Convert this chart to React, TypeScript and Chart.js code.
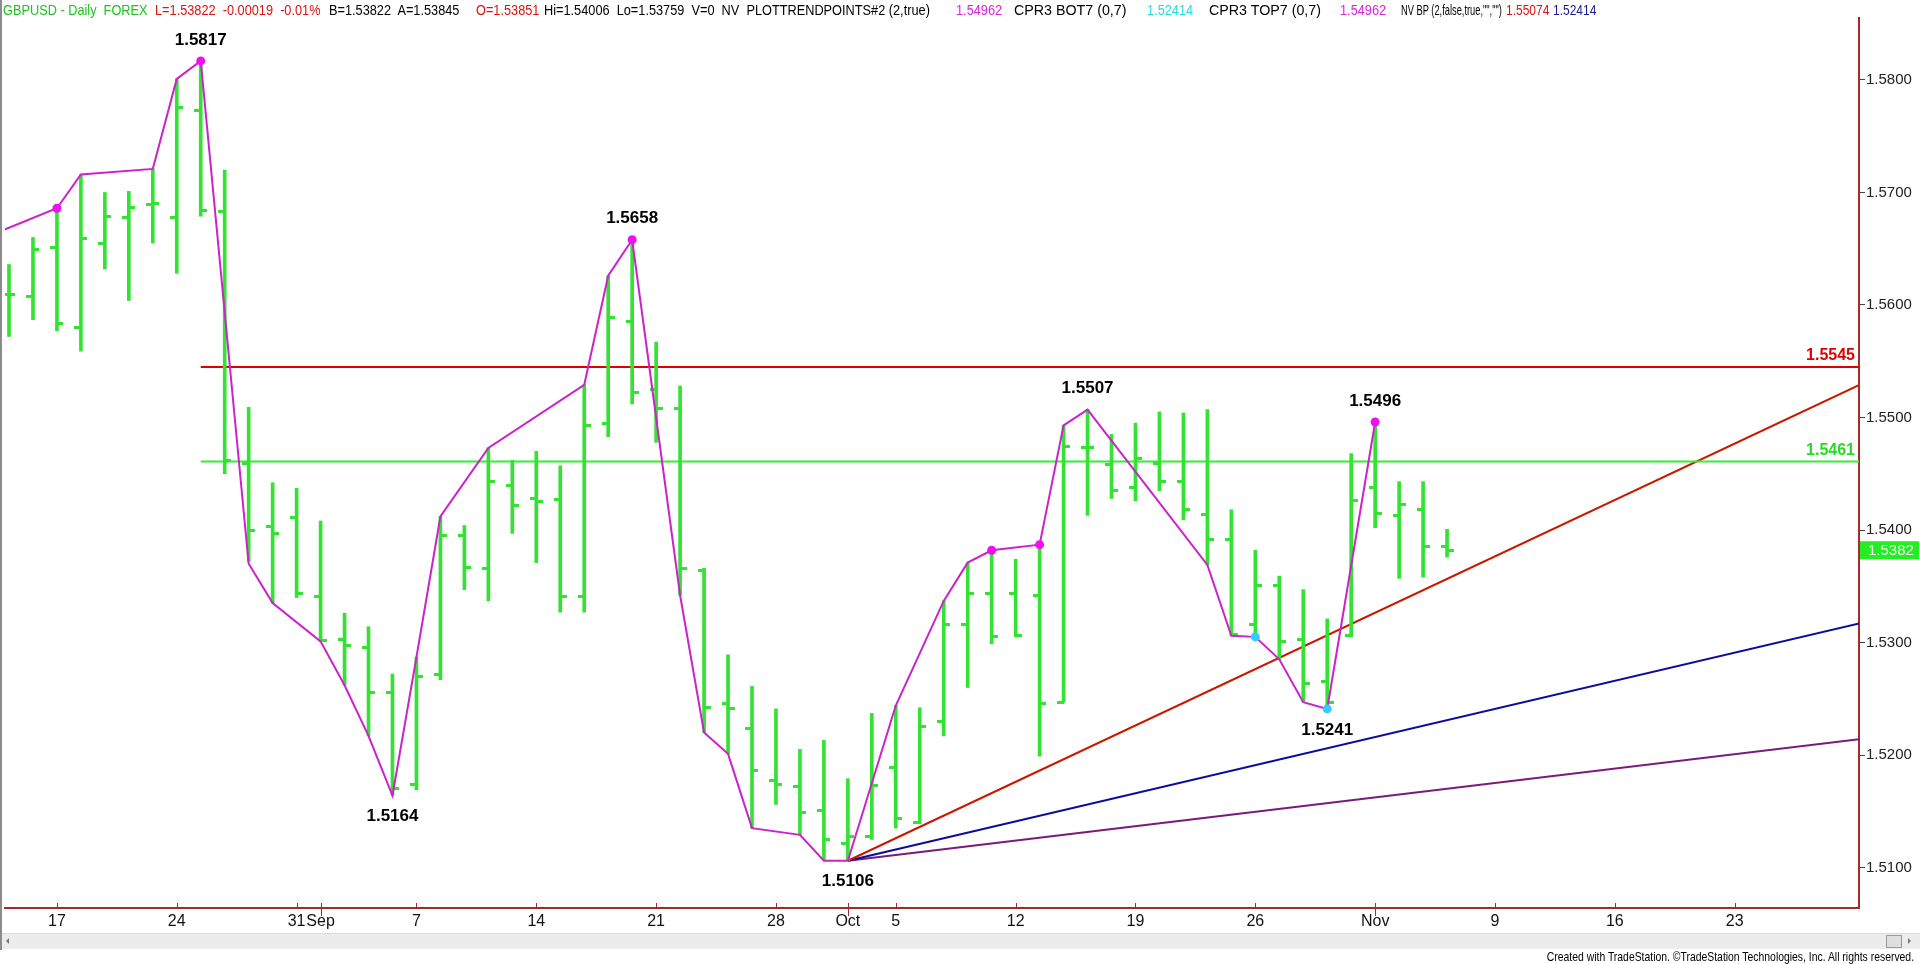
import React, { useEffect, useRef } from 'react';
import { Chart, registerables } from 'chart.js';
Chart.register(...registerables);

// ---------- DATA ----------
const barDates = [
  '2015-08-13','2015-08-14','2015-08-17','2015-08-18','2015-08-19','2015-08-20','2015-08-21',
  '2015-08-24','2015-08-25','2015-08-26','2015-08-27','2015-08-28','2015-08-31',
  '2015-09-01','2015-09-02','2015-09-03','2015-09-04','2015-09-07','2015-09-08','2015-09-09',
  '2015-09-10','2015-09-11','2015-09-14','2015-09-15','2015-09-16','2015-09-17','2015-09-18',
  '2015-09-21','2015-09-22','2015-09-23','2015-09-24','2015-09-25','2015-09-28','2015-09-29',
  '2015-09-30','2015-10-01','2015-10-02','2015-10-05','2015-10-06','2015-10-07','2015-10-08',
  '2015-10-09','2015-10-12','2015-10-13','2015-10-14','2015-10-15','2015-10-16','2015-10-19',
  '2015-10-20','2015-10-21','2015-10-22','2015-10-23','2015-10-26','2015-10-27','2015-10-28',
  '2015-10-29','2015-10-30','2015-11-02','2015-11-03','2015-11-04','2015-11-05',
];
const opens = [
  1.5609,1.5608,1.5651,1.5580,1.5655,1.5678,1.5689,1.5678,1.5773,1.5683,1.5459,1.5403,1.5411,
  1.5341,1.5303,1.5296,1.5256,1.5174,1.5272,1.5395,1.5366,1.5440,1.5428,1.5427,1.5341,1.5495,1.5585,
  1.5525,1.5508,1.5364,1.5246,1.5224,1.5177,1.5172,1.5151,1.5121,1.5128,1.5189,1.5140,1.5230,1.5316,
  1.5344,1.5344,1.5342,1.5247,1.5473,1.5458,1.5438,1.5459,1.5443,1.5414,1.5392,1.5316,1.5351,1.5303,
  1.5265,1.5306,1.5438,1.5413,1.5418,1.53851,
];
const highs = [
  1.5636,1.5660,1.5686,1.5716,1.5700,1.5701,1.5721,1.5801,1.5817,1.5720,1.5509,1.5442,1.5437,
  1.5408,1.5326,1.5314,1.5272,1.5287,1.5412,1.5404,1.5473,1.5462,1.5470,1.5457,1.5529,1.5626,1.5658,
  1.5567,1.5528,1.5366,1.5289,1.5261,1.5241,1.5205,1.5213,1.5179,1.5237,1.5244,1.5242,1.5337,1.5371,
  1.5382,1.5374,1.5387,1.5493,1.5507,1.5485,1.5495,1.5505,1.5504,1.5507,1.5418,1.5382,1.5359,1.5347,
  1.5321,1.5468,1.5496,1.5443,1.5443,1.54006,
];
const lows = [
  1.5572,1.5587,1.5577,1.5559,1.5632,1.5604,1.5655,1.5628,1.5679,1.5450,1.5372,1.5335,1.5340,
  1.5301,1.5262,1.5217,1.5164,1.5169,1.5267,1.5347,1.5337,1.5397,1.5371,1.5327,1.5327,1.5483,1.5512,
  1.5478,1.5342,1.5220,1.5201,1.5135,1.5156,1.5129,1.5107,1.5106,1.5125,1.5135,1.5139,1.5217,1.5260,
  1.5299,1.5305,1.5199,1.5247,1.5413,1.5428,1.5426,1.5435,1.5409,1.5369,1.5306,1.5305,1.5285,1.5247,
  1.5241,1.5305,1.5402,1.5357,1.5358,1.53759,
];
const closes = [
  1.5609,1.5649,1.5584,1.5659,1.5679,1.5687,1.5690,1.5776,1.5684,1.5462,1.5400,1.5397,1.5344,
  1.5302,1.5297,1.5256,1.5170,1.5270,1.5395,1.5367,1.5443,1.5422,1.5425,1.5341,1.5493,1.5589,1.5522,
  1.5508,1.5366,1.5242,1.5241,1.5186,1.5174,1.5149,1.5125,1.5128,1.5173,1.5144,1.5225,1.5316,1.5344,
  1.5305,1.5306,1.5246,1.5474,1.5473,1.5435,1.5464,1.5443,1.5418,1.5392,1.5307,1.5351,1.5301,1.5264,
  1.5247,1.5426,1.5415,1.5423,1.5385,1.53822,
];

// PlotTrendPoints zigzag path
const zigDates = [
  '2015-08-12','2015-08-17','2015-08-18','2015-08-21','2015-08-24','2015-08-25','2015-08-27',
  '2015-08-28','2015-09-01','2015-09-02','2015-09-03','2015-09-04','2015-09-07','2015-09-08',
  '2015-09-10','2015-09-16','2015-09-17','2015-09-18','2015-09-22','2015-09-23','2015-09-24',
  '2015-09-25','2015-09-29','2015-09-30','2015-10-01','2015-10-05','2015-10-07','2015-10-08',
  '2015-10-09','2015-10-13','2015-10-14','2015-10-15','2015-10-22','2015-10-23','2015-10-26',
  '2015-10-27','2015-10-28','2015-10-29','2015-11-02',
];
const zigValues = [
  1.5660,1.5686,1.5716,1.5721,1.5801,1.5817,1.5370,
  1.5335,1.5301,1.5262,1.5217,1.5164,1.5287,1.5412,
  1.5473,1.5529,1.5626,1.5658,1.5342,1.5220,1.5201,
  1.5135,1.5129,1.5106,1.5106,1.5244,1.5337,1.5371,
  1.5382,1.5387,1.5493,1.5507,1.5369,1.5306,1.5305,
  1.5285,1.5247,1.5241,1.5496,
];
const topDotDates = ['2015-08-17','2015-08-25','2015-09-18','2015-10-09','2015-10-13','2015-11-02'];
const topDotValues = [1.5686, 1.5817, 1.5658, 1.5382, 1.5387, 1.5496];
const bottomDotDates = ['2015-10-26','2015-10-29'];
const bottomDotValues = [1.5305, 1.5241];

const pivotLabelDates = ['2015-08-25','2015-09-04','2015-09-18','2015-10-01','2015-10-15','2015-10-29','2015-11-02'];
const pivotLabelValues = [1.5817, 1.5164, 1.5658, 1.5106, 1.5507, 1.5241, 1.5496];
const pivotLabelSides = ['above','below','above','below','above','below','above'];

const levelStartDate = '2015-08-25';
const resistanceLevel = 1.5545;
const pivotLevel = 1.5461;

const trendStartDate = '2015-10-01';
const trendStartValue = 1.5106;
const trendEndDate = '2015-12-01';
const redTrendEnd = 1.5537;
const blueTrendEnd = 1.5321;
const purpleTrendEnd = 1.5216;

const lastPrice = 1.5382;

const xTickDates = ['2015-08-17','2015-08-24','2015-08-31','2015-09-01','2015-09-07','2015-09-14','2015-09-21',
  '2015-09-28','2015-10-01','2015-10-05','2015-10-12','2015-10-19','2015-10-26','2015-11-02','2015-11-09',
  '2015-11-16','2015-11-23'];
const xTickLabels = ['17','24','31','Sep','7','14','21','28','Oct','5','12','19','26','Nov','9','16','23'];
const monthTickLabels = ['Sep','Oct','Nov'];
const yTickValues = [1.51, 1.52, 1.53, 1.54, 1.55, 1.56, 1.57, 1.58];

// ---------- helpers ----------
const BASE = Date.UTC(2015, 7, 17);
function tIdx(s: string): number {
  const [y, m, d] = s.split('-').map(Number);
  const days = Math.round((Date.UTC(y, m - 1, d) - BASE) / 86400000);
  const weeks = Math.floor(days / 7);
  const rem = days - weeks * 7;
  return weeks * 5 + Math.min(rem, 5);
}

const GREEN = '#33e233';
const SANS = '"Liberation Sans", Arial, sans-serif';

function makeTick(side: 'left' | 'right') {
  const c = document.createElement('canvas');
  c.width = 13; c.height = 3;
  const g = c.getContext('2d')!;
  g.fillStyle = GREEN;
  if (side === 'left') g.fillRect(0, 0, 7, 3); else g.fillRect(6, 0, 7, 3);
  return c;
}

const overlayPlugin = {
  id: 'overlay',
  afterDatasetsDraw(chart: any) {
    const { ctx, chartArea, scales } = chart;
    const x = scales.x, y = scales.y;
    ctx.save();
    ctx.font = 'bold 17px ' + SANS;
    ctx.fillStyle = '#000';
    ctx.textAlign = 'center';
    ctx.textBaseline = 'middle';
    pivotLabelDates.forEach((d, i) => {
      const px = x.getPixelForValue(tIdx(d));
      const py = y.getPixelForValue(pivotLabelValues[i]);
      ctx.fillText(pivotLabelValues[i].toFixed(4), px, py + (pivotLabelSides[i] === 'above' ? -21 : 21));
    });
    ctx.font = 'bold 16px ' + SANS;
    ctx.textAlign = 'right';
    ctx.fillStyle = '#e00000';
    ctx.fillText(resistanceLevel.toFixed(4), chartArea.right - 4, y.getPixelForValue(resistanceLevel) - 11);
    ctx.fillStyle = '#22dd22';
    ctx.fillText(pivotLevel.toFixed(4), chartArea.right - 4, y.getPixelForValue(pivotLevel) - 11);
    ctx.restore();
  },
  afterDraw(chart: any) {
    const { ctx, chartArea, scales } = chart;
    const x = scales.x, y = scales.y;
    ctx.save();
    ctx.strokeStyle = '#a52a2a';
    ctx.lineWidth = 1;
    xTickDates.forEach((d, i) => {
      const px = Math.round(x.getPixelForValue(tIdx(d))) + 0.5;
      const month = monthTickLabels.includes(xTickLabels[i]);
      ctx.beginPath();
      ctx.moveTo(px, chartArea.bottom - 5);
      ctx.lineTo(px, chartArea.bottom + (month ? 8 : 0));
      ctx.stroke();
    });
    const py = y.getPixelForValue(lastPrice);
    ctx.fillStyle = '#22ee22';
    ctx.fillRect(chartArea.right + 1, py - 9, 59, 18);
    ctx.fillStyle = '#f4fff4';
    ctx.font = '15px ' + SANS;
    ctx.textAlign = 'left';
    ctx.textBaseline = 'middle';
    ctx.fillText(lastPrice.toFixed(4), chartArea.right + 9, py + 1);
    ctx.restore();
  },
};

export default function App() {
  const ref = useRef<HTMLCanvasElement>(null);
  useEffect(() => {
    document.body.style.margin = '0';
    const idx = barDates.map(tIdx);
    const ts = tIdx(trendStartDate), te = tIdx(trendEndDate);
    const ls = tIdx(levelStartDate);
    const chart = new Chart(ref.current!, {
      type: 'scatter',
      data: {
        datasets: [
          {
            type: 'scatter', order: 0, label: 'tops',
            data: topDotDates.map((d, i) => ({ x: tIdx(d), y: topDotValues[i] })),
            pointRadius: 4.5, backgroundColor: '#ee11ee', borderWidth: 0,
          } as any,
          {
            type: 'scatter', order: 0, label: 'bottoms',
            data: bottomDotDates.map((d, i) => ({ x: tIdx(d), y: bottomDotValues[i] })),
            pointRadius: 4.5, backgroundColor: '#33ccff', borderWidth: 0,
          },
          {
            type: 'line', order: 1, label: 'zigzag',
            data: zigDates.map((d, i) => ({ x: tIdx(d), y: zigValues[i] })),
            borderColor: '#cc22cc', borderWidth: 2, pointRadius: 0, tension: 0, fill: false,
          },
          {
            type: 'scatter', order: 2, label: 'open',
            data: idx.map((v, i) => ({ x: v, y: opens[i] })),
            pointStyle: makeTick('left'), pointRadius: 3,
          },
          {
            type: 'scatter', order: 2, label: 'close',
            data: idx.map((v, i) => ({ x: v, y: closes[i] })),
            pointStyle: makeTick('right'), pointRadius: 3,
          },
          {
            type: 'bar', order: 3, label: 'range',
            data: idx.map((v, i) => ({ x: v, y: [lows[i], highs[i]] })),
            backgroundColor: GREEN, borderWidth: 0, barThickness: 3,
          } as any,
          {
            type: 'line', order: 4, label: 'resistance',
            data: [{ x: ls, y: resistanceLevel }, { x: te, y: resistanceLevel }],
            borderColor: '#e00000', borderWidth: 2, pointRadius: 0,
          },
          {
            type: 'line', order: 4, label: 'pivot',
            data: [{ x: ls, y: pivotLevel }, { x: te, y: pivotLevel }],
            borderColor: '#33ee33', borderWidth: 2, pointRadius: 0,
          },
          {
            type: 'line', order: 4, label: 'red trend',
            data: [{ x: ts, y: trendStartValue }, { x: te, y: redTrendEnd }],
            borderColor: '#c81800', borderWidth: 2, pointRadius: 0,
          },
          {
            type: 'line', order: 4, label: 'blue trend',
            data: [{ x: ts, y: trendStartValue }, { x: te, y: blueTrendEnd }],
            borderColor: '#0c0c9c', borderWidth: 2, pointRadius: 0,
          },
          {
            type: 'line', order: 4, label: 'purple trend',
            data: [{ x: ts, y: trendStartValue }, { x: te, y: purpleTrendEnd }],
            borderColor: '#7a1a7a', borderWidth: 2, pointRadius: 0,
          },
        ],
      },
      options: {
        responsive: false,
        maintainAspectRatio: false,
        animation: false,
        events: [],
        layout: { padding: { left: 2, top: 18, right: 0, bottom: 0 } },
        plugins: { legend: { display: false }, tooltip: { enabled: false } },
        scales: {
          x: {
            type: 'linear',
            min: -2 - 4 / 24,
            max: (1859 - 54.5) / 24,
            offset: false,
            afterFit: (s: any) => { s.height = 56; },
            afterBuildTicks: (s: any) => { s.ticks = xTickDates.map((d) => ({ value: tIdx(d) })); },
            ticks: {
              autoSkip: false, maxRotation: 0, minRotation: 0, padding: 4,
              callback: (v: any) => xTickLabels[xTickDates.findIndex((d) => tIdx(d) === v)] ?? '',
              font: { family: SANS, size: 16 }, color: '#111',
            },
            grid: { display: true, drawOnChartArea: false, drawTicks: false, offset: false },
            border: { display: true, color: '#a52a2a', width: 2 },
          },
          y: {
            type: 'linear',
            position: 'right',
            min: 1.58 - 828 / 11250,
            max: 1.58 + 62 / 11250,
            afterFit: (s: any) => { s.width = 61; },
            afterBuildTicks: (s: any) => { s.ticks = yTickValues.map((v) => ({ value: v })); },
            ticks: {
              padding: 1,
              callback: (v: any) => Number(v).toFixed(4),
              font: { family: SANS, size: 15 }, color: '#222',
            },
            grid: { display: true, drawOnChartArea: false, drawTicks: true, tickLength: 6, color: '#444' },
            border: { display: true, color: '#a52a2a', width: 2 },
          },
        },
      } as any,
      plugins: [overlayPlugin],
    });
    return () => chart.destroy();
  }, []);

  const seg = (text: string, left: number, color: string, sx = 0.85) => (
    <span style={{ position: 'absolute', left, top: 1, color, whiteSpace: 'pre', transform: `scaleX(${sx})`, transformOrigin: '0 0' }}>{text}</span>
  );

  return (
    <div style={{ position: 'fixed', left: 0, top: 0, width: 1920, height: 964, background: '#fff', overflow: 'hidden' }}>
      <canvas ref={ref} width={1920} height={964} style={{ position: 'absolute', left: 0, top: 0 }} />
      <div style={{ position: 'absolute', left: 0, top: 0, width: 2, height: 950, background: '#8c8c8c' }} />
      <div style={{ position: 'absolute', left: 0, top: 0, width: 1920, height: 18, fontFamily: SANS, fontSize: 15, lineHeight: '17px' }}>
        {seg('GBPUSD - Daily  FOREX', 3, '#22c022')}
        {seg('L=1.53822  -0.00019  -0.01%', 155, '#dd1111')}
        {seg('B=1.53822  A=1.53845', 329, '#000')}
        {seg('O=1.53851', 476, '#dd1111')}
        {seg('Hi=1.54006  Lo=1.53759  V=0  NV  PLOTTRENDPOINTS#2 (2,true)', 544, '#000')}
        {seg('1.54962', 956, '#dd22dd')}
        {seg('CPR3 BOT7 (0,7)', 1014, '#000', 0.95)}
        {seg('1.52414', 1147, '#22dddd')}
        {seg('CPR3 TOP7 (0,7)', 1209, '#000', 0.95)}
        {seg('1.54962', 1340, '#dd22dd')}
        {seg('NV BP (2,false,true,"","")', 1401, '#000', 0.62)}
        {seg('1.55074', 1506, '#dd1111', 0.8)}
        {seg('1.52414', 1553, '#1a1a99', 0.8)}
      </div>
      <div style={{ position: 'absolute', left: 2, top: 933, width: 1918, height: 15, background: '#ececec', borderTop: '1px solid #dcdcdc' }} />
      <div style={{ position: 'absolute', left: 6, top: 938, width: 0, height: 0, borderTop: '3px solid transparent', borderBottom: '3px solid transparent', borderRight: '3px solid #777' }} />
      <div style={{ position: 'absolute', left: 1886, top: 935, width: 14, height: 11, background: '#dedede', border: '1px solid #9a9a9a' }} />
      <div style={{ position: 'absolute', left: 1908, top: 938, width: 0, height: 0, borderTop: '3px solid transparent', borderBottom: '3px solid transparent', borderLeft: '3px solid #777' }} />
      <div style={{ position: 'absolute', right: 6, top: 949, fontFamily: SANS, fontSize: 13, color: '#000', whiteSpace: 'nowrap', transform: 'scaleX(0.8)', transformOrigin: '100% 0' }}>
        Created with TradeStation. ©TradeStation Technologies, Inc. All rights reserved.
      </div>
    </div>
  );
}
